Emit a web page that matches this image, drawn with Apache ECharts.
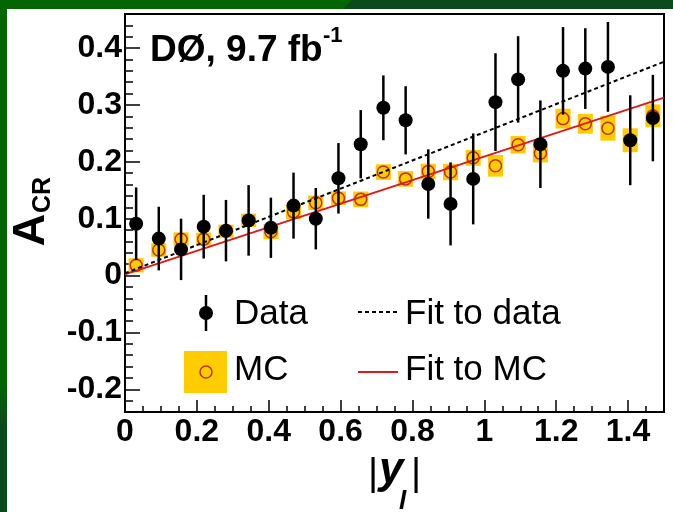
<!DOCTYPE html>
<html>
<head>
<meta charset="utf-8">
<script src="https://cdn.jsdelivr.net/npm/echarts@6/dist/echarts.min.js"></script>
<style>
  html, body { margin: 0; padding: 0; background: #fff; }
  #chart { width: 673px; height: 512px; }
</style>
</head>
<body>
<div id="chart"></div>
<script>
// bin centres in |y_l|
const binCenters = [0.031, 0.094, 0.156, 0.219, 0.281, 0.344, 0.406, 0.469, 0.531, 0.594, 0.656, 0.719,
                    0.781, 0.844, 0.906, 0.969, 1.031, 1.094, 1.156, 1.219, 1.281, 1.344, 1.406, 1.469];

// data points and their errors
const dataVals = [0.091, 0.065, 0.046, 0.086, 0.079, 0.097, 0.084, 0.123, 0.100, 0.171, 0.231, 0.295,
                  0.273, 0.161, 0.126, 0.170, 0.305, 0.345, 0.231, 0.360, 0.364, 0.367, 0.238, 0.277];
const dataErr = [0.064, 0.056, 0.054, 0.056, 0.054, 0.062, 0.053, 0.058, 0.054, 0.062, 0.060, 0.057,
                 0.060, 0.061, 0.073, 0.080, 0.086, 0.076, 0.077, 0.077, 0.071, 0.079, 0.079, 0.076];

// MC points and errors (yellow boxes)
const mcVals = [0.018, 0.045, 0.064, 0.064, 0.078, 0.097, 0.077, 0.112, 0.128, 0.136, 0.134, 0.182,
                0.170, 0.183, 0.182, 0.207, 0.193, 0.230, 0.215, 0.276, 0.267, 0.259, 0.238, 0.281];
const mcErr = [0.0125, 0.012, 0.012, 0.0116, 0.0116, 0.012, 0.013, 0.0125, 0.0128, 0.012, 0.0137, 0.0137,
               0.0137, 0.0137, 0.0145, 0.014, 0.019, 0.0154, 0.016, 0.0174, 0.0174, 0.0218, 0.021, 0.020];
const mcBoxHalfWidth = 0.021;

// straight-line fits, end points
const fitX = [0, 1.5];
const fitDataY = [0.004, 0.376];
const fitMcY = [0.002, 0.313];

const FONT = '"Liberation Sans", Arial, Helvetica, sans-serif';
const MC_RED = '#c0301c';
const FIT_RED = '#dd1a1a';
const GOLD = '#ffcc00';

const chart = echarts.init(document.getElementById('chart'), null, { renderer: 'canvas' });

const errData = binCenters.map((x, i) => [x, dataVals[i], dataErr[i]]);
const mcData = binCenters.map((x, i) => [x, mcVals[i], mcErr[i]]);

function fmtTick(v) {
  if (Math.abs(v) < 1e-9) return '0';
  return String(+v.toFixed(1));
}

const tickStyle = { color: '#000', width: 1.5 };

chart.setOption({
  animation: false,
  backgroundColor: '#fff',
  grid: {
    left: 125, top: 14, right: 9, bottom: 100,
    show: true, borderColor: '#000', borderWidth: 2, backgroundColor: 'transparent',
    outerBoundsMode: 'none'
  },
  xAxis: [
    {
      type: 'value', min: 0, max: 1.5, interval: 0.2, position: 'bottom',
      axisLine: { show: true, onZero: false, lineStyle: { color: '#000', width: 2 } },
      axisTick: { show: true, inside: true, length: 12, lineStyle: tickStyle },
      axisLabel: {
        show: true, margin: 4, color: '#000', fontFamily: FONT, fontWeight: 'bold', fontSize: 32,
        showMaxLabel: false, formatter: fmtTick
      },
      splitLine: { show: false }
    },
    {
      // minor ticks
      type: 'value', min: 0, max: 1.5, interval: 0.05, position: 'bottom',
      axisLine: { show: false, onZero: false },
      axisTick: { show: true, inside: true, length: 6, lineStyle: tickStyle },
      axisLabel: { show: false },
      splitLine: { show: false }
    }
  ],
  yAxis: [
    {
      type: 'value', min: -0.24, max: 0.46, splitNumber: 7, position: 'left',
      axisLine: { show: true, onZero: false, lineStyle: { color: '#000', width: 2 } },
      axisTick: { show: true, inside: true, length: 15, lineStyle: tickStyle },
      axisLabel: {
        show: true, margin: 3, color: '#000', fontFamily: FONT, fontWeight: 'bold', fontSize: 32,
        showMinLabel: false, showMaxLabel: false, formatter: fmtTick
      },
      splitLine: { show: false }
    },
    {
      // minor ticks
      type: 'value', min: -0.24, max: 0.46, interval: 0.02, position: 'left',
      axisLine: { show: false, onZero: false },
      axisTick: { show: true, inside: true, length: 8, lineStyle: tickStyle },
      axisLabel: { show: false },
      splitLine: { show: false }
    }
  ],
  series: [
    {
      name: 'MC box', type: 'custom', z: 1, silent: true,
      data: mcData,
      renderItem: function (params, api) {
        const x = api.value(0), y = api.value(1), e = api.value(2);
        const p1 = api.coord([x - mcBoxHalfWidth, y + e]);
        const p2 = api.coord([x + mcBoxHalfWidth, y - e]);
        return {
          type: 'rect',
          shape: { x: p1[0], y: p1[1], width: p2[0] - p1[0], height: p2[1] - p1[1] },
          style: { fill: GOLD }
        };
      }
    },
    {
      name: 'MC', type: 'scatter', z: 2, silent: true,
      data: mcData.map(d => [d[0], d[1]]),
      symbol: 'circle', symbolSize: 12,
      itemStyle: { color: 'rgba(0,0,0,0)', borderColor: MC_RED, borderWidth: 1.5, opacity: 1 }
    },
    {
      name: 'Fit to MC', type: 'line', z: 3, silent: true,
      data: fitX.map((x, i) => [x, fitMcY[i]]),
      symbol: 'none', lineStyle: { color: FIT_RED, width: 2 }
    },
    {
      name: 'Fit to data', type: 'line', z: 3, silent: true,
      data: fitX.map((x, i) => [x, fitDataY[i]]),
      symbol: 'none', lineStyle: { color: '#000', width: 2, type: [4, 3] }
    },
    {
      name: 'Data err', type: 'custom', z: 4, silent: true,
      data: errData,
      renderItem: function (params, api) {
        const x = api.value(0), y = api.value(1), e = api.value(2);
        const lo = api.coord([x, y - e]);
        const hi = api.coord([x, y + e]);
        return {
          type: 'line',
          shape: { x1: lo[0], y1: lo[1], x2: hi[0], y2: hi[1] },
          style: { stroke: '#000', lineWidth: 2.5 }
        };
      }
    },
    {
      name: 'Data', type: 'scatter', z: 5, silent: true,
      data: errData.map(d => [d[0], d[1]]),
      symbol: 'circle', symbolSize: 14,
      itemStyle: { color: '#000', opacity: 1 }
    }
  ],
  graphic: [
    // green slide frame
    { type: 'rect', shape: { x: 0, y: 0, width: 673, height: 9 }, style: { fill: '#036603' }, silent: true },
    { type: 'polygon', shape: { points: [[343, 9], [352, 0], [673, 0], [673, 9]] }, style: { fill: '#0b4a1d' }, silent: true },
    {
      type: 'rect', shape: { x: 0, y: 0, width: 7, height: 512 }, silent: true,
      style: {
        fill: new echarts.graphic.LinearGradient(0, 0, 0, 1, [
          { offset: 0, color: '#036603' }, { offset: 0.75, color: '#036603' },
          { offset: 0.83, color: '#0b4a1d' }, { offset: 1, color: '#0b4a1d' }
        ])
      }
    },
    // experiment label
    {
      type: 'text', x: 150, y: 51, silent: true,
      style: { text: 'DØ, 9.7 fb', fontFamily: FONT, fontWeight: 'bold', fontSize: 37, fill: '#000', align: 'left', verticalAlign: 'middle' }
    },
    {
      type: 'text', x: 323, y: 36, silent: true,
      style: { text: '-1', fontFamily: FONT, fontWeight: 'bold', fontSize: 22, fill: '#000', align: 'left', verticalAlign: 'middle' }
    },
    // y-axis title A_CR
    {
      type: 'text', x: 32, y: 230, rotation: Math.PI / 2, silent: true,
      style: { text: 'A', fontFamily: FONT, fontWeight: 'bold', fontSize: 45, fill: '#000', align: 'center', verticalAlign: 'middle' }
    },
    {
      type: 'text', x: 43, y: 195, rotation: Math.PI / 2, silent: true,
      style: { text: 'CR', fontFamily: FONT, fontWeight: 'bold', fontSize: 25, fill: '#000', align: 'center', verticalAlign: 'middle' }
    },
    // x-axis title |y_l|
    {
      type: 'text', x: 368, y: 474, silent: true,
      style: { text: '|', fontFamily: FONT, fontSize: 39, fill: '#000', align: 'left', verticalAlign: 'middle' }
    },
    {
      type: 'text', x: 379, y: 471, silent: true,
      style: { text: 'y', fontFamily: FONT, fontWeight: 'bold', fontStyle: 'italic', fontSize: 44, fill: '#000', align: 'left', verticalAlign: 'middle' }
    },
    {
      type: 'text', x: 399, y: 502, silent: true,
      style: { text: 'l', fontFamily: FONT, fontWeight: 'bold', fontStyle: 'italic', fontSize: 26, fill: '#000', align: 'left', verticalAlign: 'middle' }
    },
    {
      type: 'text', x: 411, y: 474, silent: true,
      style: { text: '|', fontFamily: FONT, fontSize: 39, fill: '#000', align: 'left', verticalAlign: 'middle' }
    },
    // legend: Data
    { type: 'line', shape: { x1: 206, y1: 295, x2: 206, y2: 331 }, style: { stroke: '#000', lineWidth: 2.5 }, silent: true },
    { type: 'circle', shape: { cx: 206, cy: 313, r: 7 }, style: { fill: '#000' }, silent: true },
    {
      type: 'text', x: 234, y: 314, silent: true,
      style: { text: 'Data', fontFamily: FONT, fontSize: 35, fill: '#000', align: 'left', verticalAlign: 'middle' }
    },
    // legend: MC
    { type: 'rect', shape: { x: 184, y: 351, width: 43, height: 42 }, style: { fill: GOLD }, silent: true },
    { type: 'circle', shape: { cx: 206, cy: 372, r: 6 }, style: { fill: 'none', stroke: MC_RED, lineWidth: 1.5 }, silent: true },
    {
      type: 'text', x: 234, y: 370, silent: true,
      style: { text: 'MC', fontFamily: FONT, fontSize: 35, fill: '#000', align: 'left', verticalAlign: 'middle' }
    },
    // legend: fits
    { type: 'line', shape: { x1: 358, y1: 312, x2: 398, y2: 312 }, style: { stroke: '#000', lineWidth: 2, lineDash: [4, 3] }, silent: true },
    {
      type: 'text', x: 405, y: 314, silent: true,
      style: { text: 'Fit to data', fontFamily: FONT, fontSize: 35, fill: '#000', align: 'left', verticalAlign: 'middle' }
    },
    { type: 'line', shape: { x1: 358, y1: 372, x2: 398, y2: 372 }, style: { stroke: FIT_RED, lineWidth: 2 }, silent: true },
    {
      type: 'text', x: 405, y: 370, silent: true,
      style: { text: 'Fit to MC', fontFamily: FONT, fontSize: 35, fill: '#000', align: 'left', verticalAlign: 'middle' }
    }
  ]
});

window.addEventListener('resize', function () {
  chart.resize();
});
</script>
</body>
</html>
